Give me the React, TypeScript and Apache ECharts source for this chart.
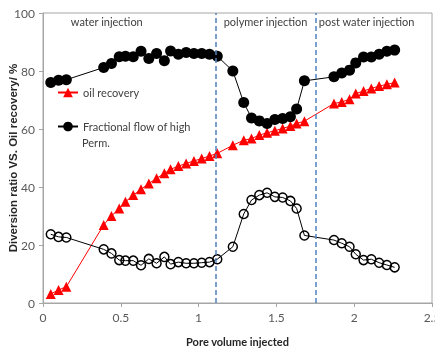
import React, { useEffect, useRef } from "react";
import * as echarts from "echarts";

const poreVolume: number[] = [
  0.05, 0.1, 0.15, 0.39, 0.44, 0.49, 0.53, 0.58, 0.63, 0.68, 0.73, 0.78, 0.82, 0.87, 0.92, 0.97, 1.02, 1.07, 1.12,
  1.22, 1.29, 1.34, 1.39, 1.44, 1.49, 1.54, 1.59, 1.63, 1.68,
  1.87, 1.92, 1.97, 2.01, 2.06, 2.11, 2.16, 2.21, 2.26,
];

const oilRecovery: number[] = [
  3.1, 4.5, 5.6, 26.9, 30.0, 32.6, 34.9, 37.2, 39.2, 41.2, 43.0, 44.7, 46.1, 47.2, 48.1, 49.0, 49.8, 50.7, 51.6,
  54.4, 56.1, 56.7, 57.9, 58.7, 59.4, 60.2, 61.0, 61.9, 62.7,
  68.8, 69.3, 70.3, 72.2, 73.1, 74.0, 74.8, 75.4, 76.0,
];

const fractionalFlowHigh: number[] = [
  76.0, 76.8, 77.0, 81.2, 82.6, 84.9, 85.1, 84.9, 86.8, 84.3, 86.0, 83.5, 86.9, 85.8, 86.4, 86.0, 86.0, 85.8, 85.1,
  80.0, 69.1, 63.8, 62.8, 61.9, 63.3, 63.6, 64.2, 66.9, 76.6,
  78.0, 79.3, 80.3, 82.8, 84.8, 84.8, 85.8, 86.8, 87.2,
];

const diversionRatio: number[] = [
  23.7, 22.8, 22.6, 18.5, 17.1, 14.8, 14.6, 14.6, 13.0, 15.2, 13.7, 15.9, 13.4, 14.1, 13.7, 13.7, 13.9, 14.1, 15.1,
  19.4, 30.7, 35.5, 37.2, 38.0, 36.6, 36.4, 35.2, 32.6, 23.3,
  21.7, 20.6, 19.4, 16.8, 14.8, 15.1, 13.9, 13.1, 12.3,
];

const stageBoundaries: number[] = [1.11, 1.75];
const stageLabels: string[] = ["water injection", "polymer injection", "post water injection"];
const stageLabelX: number[] = [0.41, 1.43, 2.08];

const FONT = "Lato, 'Liberation Sans', Arial, sans-serif";

export default function App() {
  const ref = useRef<HTMLDivElement>(null);
  useEffect(() => {
    if (!ref.current) return;
    const chart = echarts.init(ref.current, null, { renderer: "svg" });
    const pair = (ys: number[]) => poreVolume.map((x, i) => [x, ys[i]]);
    chart.setOption({
      animation: false,
      textStyle: { fontFamily: FONT },
      grid: {
        left: 43,
        right: 3,
        top: 13,
        bottom: 48,
        show: true,
        borderColor: "#a6a6a6",
        borderWidth: 1,
        containLabel: false,
        outerBoundsMode: "none",
      },
      legend: [
        {
          left: 52,
          top: 82,
          padding: 5,
          itemWidth: 20,
          itemHeight: 12,
          data: ["oil recovery"],
          textStyle: { fontFamily: FONT, fontSize: 11, color: "#404040" },
        },
        {
          left: 52,
          top: 116,
          padding: 5,
          itemWidth: 20,
          itemHeight: 12,
          data: ["Fractional flow of high Perm."],
          formatter: () => "Fractional flow of high",
          textStyle: { fontFamily: FONT, fontSize: 11, color: "#404040" },
        },
      ],
      xAxis: {
        type: "value",
        min: 0,
        max: 2.5,
        interval: 0.5,
        name: "Pore volume injected",
        nameLocation: "middle",
        nameGap: 33,
        nameMoveOverlap: false,
        nameTextStyle: { fontFamily: FONT, fontSize: 11, fontWeight: "bold", color: "#262626" },
        axisLine: { lineStyle: { color: "#a6a6a6" } },
        axisTick: { show: true, length: 4, lineStyle: { color: "#a6a6a6" } },
        axisLabel: { fontFamily: FONT, fontSize: 12, color: "#595959", margin: 8 },
        splitLine: { show: false },
      },
      yAxis: {
        type: "value",
        min: 0,
        max: 100,
        interval: 20,
        name: "Diversion ratio VS. Oil recovery/ %",
        nameLocation: "middle",
        nameGap: 24,
        nameMoveOverlap: false,
        nameTextStyle: {
          fontFamily: "'Liberation Sans', Arial, sans-serif",
          fontSize: 11.5,
          fontWeight: "bold",
          color: "#262626",
        },
        axisLine: { show: true, lineStyle: { color: "#a6a6a6" } },
        axisTick: { show: true, length: 4, lineStyle: { color: "#a6a6a6" } },
        axisLabel: { fontFamily: FONT, fontSize: 12, color: "#595959", margin: 8 },
        splitLine: { show: false },
      },
      graphic: [
        ...stageLabels.map((t, i) => ({
          type: "text",
          id: "stage" + i,
          x: 0,
          y: 0,
          silent: true,
          style: { text: t, fontFamily: FONT, fontSize: 11, fill: "#404040", align: "center", verticalAlign: "middle" },
        })),
        {
          type: "text",
          id: "perm",
          left: 82,
          top: 137,
          silent: true,
          style: { text: "Perm.", fontFamily: FONT, fontSize: 11, fill: "#404040" },
        },
      ],
      series: [
        {
          name: "oil recovery",
          type: "line",
          data: pair(oilRecovery),
          symbol: "triangle",
          symbolSize: 10,
          itemStyle: { color: "#ff0000" },
          lineStyle: { color: "#ff0000", width: 1 },
          z: 3,
          markLine: {
            silent: true,
            symbol: "none",
            label: { show: false },
            lineStyle: { color: "#4f81bd", type: [5, 3], width: 1.5 },
            data: stageBoundaries.map((b) => ({ xAxis: b })),
          },
        },
        {
          name: "Fractional flow of high Perm.",
          type: "line",
          data: pair(fractionalFlowHigh),
          symbol: "circle",
          symbolSize: 11,
          itemStyle: { color: "#000000" },
          lineStyle: { color: "#000000", width: 1 },
          z: 4,
        },
        {
          name: "Diversion ratio",
          type: "line",
          data: pair(diversionRatio),
          symbol: "circle",
          symbolSize: 9,
          itemStyle: { color: "rgba(0,0,0,0)", borderColor: "#000000", borderWidth: 1.5 },
          lineStyle: { color: "#000000", width: 1 },
          z: 4,
        },
      ],
    });
    chart.setOption({
      graphic: stageLabels.map((t, i) => {
        const p = chart.convertToPixel({ gridIndex: 0 }, [stageLabelX[i], 100]);
        return { id: "stage" + i, x: p[0], y: p[1] + 8 };
      }),
    });
    return () => chart.dispose();
  }, []);
  return <div ref={ref} style={{ position: "fixed", left: 0, top: 0, width: 435, height: 351 }} />;
}
